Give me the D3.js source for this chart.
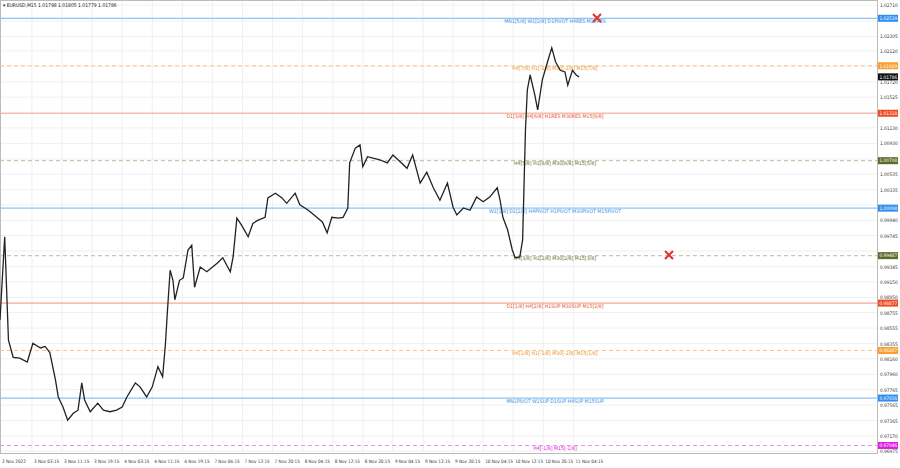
<!DOCTYPE html>
<html><head><meta charset="utf-8">
<script src="https://cdn.jsdelivr.net/npm/d3@7"></script>
<style>body{margin:0;background:#fff}svg{font-family:"DejaVu Sans Condensed","DejaVu Sans",sans-serif}</style>
</head><body><svg id="c" width="900" height="468"></svg>
<script>
// M15 bar index of each traced point
var bars = [0,5,9,14,21,29,35,43,48,53,
  59,62,67,72,78,83,87,90,96,104,
  110,117,124,130,135,144,149,156,162,168,
  173,176,178,181,184,186,191,195,200,204,
  207,213,220,231,237,245,248,252,257,264,
  269,274,282,285,293,300,305,314,319,328,
  337,343,348,353,360,365,370,372,378,383,
  386,391,404,412,418,426,433,439,447,454,
  461,468,476,482,486,493,500,507,514,521,
  529,532,535,540,545,548,553,556,559,561,
  564,569,572,577,583,587,591,596,601,604,
  609,613,616];
var closes = [0.9866,0.9973,0.9840,0.9818,0.9817,0.9812,0.9836,0.9830,0.9832,0.9824,
  0.9789,0.9767,0.9754,0.9737,0.9746,0.9750,0.9785,0.9763,0.9748,0.9759,
  0.9750,0.9748,0.9750,0.9754,0.9767,0.9785,0.9780,0.9767,0.9780,0.9806,
  0.9793,0.9835,0.9875,0.9930,0.9917,0.9892,0.9917,0.9920,0.9956,0.9962,
  0.9908,0.9934,0.9928,0.9939,0.9946,0.9928,0.9947,0.9997,0.9988,0.9973,
  0.9990,0.9994,0.9998,1.0023,1.0029,1.0023,1.0016,1.0029,1.0014,1.0007,
  0.9998,0.9992,0.9978,0.9998,0.9997,0.9998,1.0010,1.0068,1.0087,1.0091,
  1.0063,1.0076,1.0072,1.0068,1.0078,1.0069,1.0061,1.0078,1.0042,1.0056,
  1.0036,1.0020,1.0042,1.0011,1.0001,1.0010,1.0007,1.0024,1.0018,1.0024,
  1.0036,1.0020,0.9998,0.9982,0.9956,0.9946,0.9947,0.9969,1.0110,1.0162,
  1.0181,1.0155,1.0136,1.0175,1.0200,1.0216,1.0198,1.0187,1.0185,1.0168,
  1.0187,1.0181,1.01786];

var priceTicks = [1.02710,1.02505,1.02305,1.02120,1.01920,1.01720,1.01525,1.01330,1.01130,1.00930,
  1.00730,1.00535,1.00335,1.00140,0.99940,0.99745,0.99545,0.99345,0.99150,0.98950,
  0.98755,0.98555,0.98355,0.98160,0.97960,0.97765,0.97565,0.97365,0.97170,0.96975];
var timeLabels = ['2 Nov 2022','3 Nov 03:15','3 Nov 11:15','3 Nov 19:15','4 Nov 03:15','4 Nov 11:15',
  '4 Nov 19:15','7 Nov 04:15','7 Nov 12:15','7 Nov 20:15','8 Nov 04:15','8 Nov 12:15','8 Nov 20:15',
  '9 Nov 04:15','9 Nov 12:15','9 Nov 20:15','10 Nov 04:15','10 Nov 12:15','10 Nov 20:15','11 Nov 04:15'];
var timeBars = [0,34,66,98,130,162,194,226,258,290,322,354,386,418,450,482,514,546,578,610];

var levelPrices = [1.02539,1.01929,1.01318,1.00708,1.00098,0.99487,0.98877,0.98267,0.97656,0.97046];
var levelNames = ['MN1[5/8] W1[2/8] D1PIVOT H4RES M15RES','H4[7/8] H1[-2/8] M30[-2/8] M15[7/8]',
  'D1[3/8] H4[6/8] H1RES M30RES M15[6/8]','H4[5/8] H1[6/8] M30[6/8] M15[5/8]',
  'W1[1/8] D1[2/8] H4PIVOT H1PIVOT M30PIVOT M15PIVOT','H4[3/8] H1[2/8] M30[2/8] M15[3/8]',
  'D1[1/8] H4[2/8] H1SUP M30SUP M15[2/8]','H4[1/8] H1[-2/8] M30[-2/8] M15[1/8]',
  'MN1PIVOT W1SUP D1SUP H4SUP M15SUP','H4[-1/8] M15[-1/8]'];
var levelKind = ['blue','orange','red','olive','blue','olive','red','orange','blue','magenta'];

var styles = {
  blue:{line:'#8cc4f5',text:'#3b8fe0',box:'#2f8ef0',dash:null},
  orange:{line:'#f8c88a',text:'#f0951e',box:'#f7a030',dash:'4,3'},
  red:{line:'#f5a890',text:'#e8542a',box:'#f04a20',dash:null},
  olive:{line:'#c8c8b0',text:'#6b7030',box:'#5a6b2a',dash:'4,3'},
  magenta:{line:'#f08cf0',text:'#e020e0',box:'#e020e0',dash:'4,3'}
};

var W = 877, H = 453;
var svg = d3.select('#c');
var x = d3.scaleLinear().domain([0, 933]).range([0, W]);
var y = d3.scaleLinear().domain([0.96975, 1.02710]).range([451, 5]);

// grid
svg.append('g').selectAll('line').data(priceTicks).join('line')
  .attr('x1',0).attr('x2',W).attr('y1',d=>y(d)).attr('y2',d=>y(d))
  .attr('stroke','#ececec').attr('stroke-width',0.8);
svg.append('g').selectAll('line').data(timeBars).join('line')
  .attr('x1',d=>x(d)).attr('x2',d=>x(d)).attr('y1',0).attr('y2',H)
  .attr('stroke','#ececec').attr('stroke-width',0.8);

// frame
svg.append('rect').attr('x',0.5).attr('y',0.5).attr('width',W).attr('height',H)
  .attr('fill','none').attr('stroke','#bbb');

// levels
var lv = svg.append('g');
levelPrices.forEach(function(p,i){
  var s = styles[levelKind[i]];
  lv.append('line').attr('x1',0).attr('x2',W).attr('y1',y(p)).attr('y2',y(p))
    .attr('stroke',s.line).attr('stroke-width',1.2).attr('stroke-dasharray',s.dash);
  lv.append('text').attr('x',555).attr('y',y(p)+4.5).attr('text-anchor','middle')
    .attr('font-size',5.2).attr('fill',s.text).text(levelNames[i]);
});

// price line
var pts = bars.map((b,i)=>[b, closes[i]]);
svg.append('path').datum(pts)
  .attr('d', d3.line().x(d=>x(d[0])).y(d=>y(d[1])))
  .attr('fill','none').attr('stroke','#222').attr('stroke-width',1.3);

// crosses
[[597,18],[669,255]].forEach(function(c){
  svg.append('path').attr('d','M'+(c[0]-4)+','+(c[1]-4)+'L'+(c[0]+4)+','+(c[1]+4)+'M'+(c[0]+4)+','+(c[1]-4)+'L'+(c[0]-4)+','+(c[1]+4))
    .attr('stroke','#e03030').attr('stroke-width',2);
});

// right axis
var last = closes[closes.length-1];
var boxes = levelPrices.concat([last]);
var ax = svg.append('g').attr('font-size',4.8).attr('fill','#333');
ax.selectAll('text').data(priceTicks.filter(t=>!boxes.some(b=>Math.abs(y(b)-y(t))<5))).join('text')
  .attr('x',W+3).attr('y',d=>y(d)+2).text(d=>d.toFixed(5));
levelPrices.forEach(function(p,i){
  var s = styles[levelKind[i]];
  ax.append('rect').attr('x',W+1).attr('y',y(p)-3.5).attr('width',20).attr('height',7).attr('fill',s.box);
  ax.append('text').attr('x',W+2.5).attr('y',y(p)+1.8).attr('fill','#fff').text(p.toFixed(5));
});
ax.append('rect').attr('x',W+1).attr('y',y(last)-3.5).attr('width',20).attr('height',7).attr('fill','#111');
ax.append('text').attr('x',W+2.5).attr('y',y(last)+1.8).attr('fill','#fff').text(last.toFixed(5));

// time axis
svg.append('g').attr('font-size',4.6).attr('fill','#333')
  .selectAll('text').data(timeLabels).join('text')
  .attr('x',(d,i)=>x(timeBars[i])+2).attr('y',H+10).text(d=>d);

// header
svg.append('text').attr('x',3).attr('y',7).attr('font-size',5).attr('fill','#222')
  .text('\u25BE EURUSD,M15  1.01798 1.01805 1.01779 1.01786');
</script></body></html>
